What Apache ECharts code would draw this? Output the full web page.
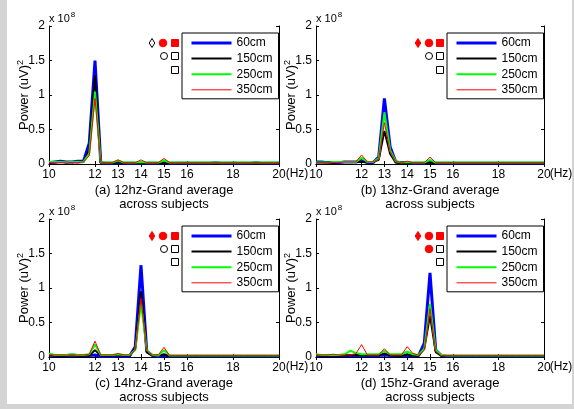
<!DOCTYPE html>
<html><head><meta charset="utf-8">
<script src="https://cdn.jsdelivr.net/npm/echarts@6/dist/echarts.min.js"></script>
<style>html,body{margin:0;padding:0;background:#fff}#c{width:574px;height:409px}</style>
</head><body><div id="c"></div>
<script>
const freq = [10,10.25,10.5,10.75,11,11.25,11.5,11.75,12,12.25,12.5,12.75,13,13.25,13.5,13.75,14,14.25,14.5,14.75,15,15.25,15.5,15.75,16,16.25,16.5,16.75,17,17.25,17.5,17.75,18,18.25,18.5,18.75,19,19.25,19.5,19.75,20];
const xTicks = [10,12,13,14,15,16,18,20];
const seriesNames = ['60cm','150cm','250cm','350cm'];
const titles = ['(a) 12hz-Grand average','(b) 13hz-Grand average','(c) 14hz-Grand average','(d) 15hz-Grand average'];
const subTitle = 'across subjects';

// values in units of 1e8 (uV)^2
const a60 = [0.02,0.03,0.04,0.03,0.03,0.04,0.04,0.30,1.50,0.02,0.01,0.01,0.02,0.01,0.01,0.01,0.01,0.01,0.01,0.01,0.03,0.01,0.01,0.01,0.01,0.01,0.01,0.01,0.01,0.02,0.01,0.01,0.01,0.01,0.01,0.01,0.02,0.01,0.01,0.01,0.01];
const a150 = [0.02,0.02,0.03,0.02,0.03,0.02,0.03,0.20,1.28,0.02,0.01,0.01,0.03,0.01,0.01,0.01,0.01,0.01,0.01,0.01,0.02,0.01,0.01,0.01,0.01,0.01,0.01,0.01,0.01,0.01,0.01,0.01,0.01,0.01,0.01,0.01,0.01,0.01,0.01,0.01,0.01];
const a250 = [0.03,0.03,0.03,0.03,0.03,0.03,0.03,0.15,1.05,0.02,0.02,0.02,0.05,0.02,0.02,0.02,0.03,0.02,0.02,0.02,0.05,0.02,0.02,0.02,0.02,0.02,0.02,0.02,0.02,0.02,0.02,0.02,0.02,0.02,0.02,0.02,0.02,0.02,0.02,0.02,0.02];
const a350 = [0.02,0.02,0.02,0.03,0.02,0.02,0.03,0.12,0.95,0.02,0.02,0.02,0.06,0.02,0.02,0.02,0.06,0.02,0.02,0.02,0.08,0.02,0.02,0.02,0.02,0.02,0.02,0.02,0.02,0.02,0.02,0.02,0.02,0.02,0.02,0.02,0.02,0.02,0.02,0.02,0.02];

const b60 = [0.03,0.03,0.02,0.02,0.02,0.03,0.03,0.03,0.05,0.02,0.02,0.10,0.95,0.25,0.03,0.02,0.02,0.01,0.01,0.01,0.03,0.01,0.01,0.01,0.01,0.01,0.01,0.01,0.01,0.01,0.01,0.01,0.01,0.01,0.01,0.01,0.01,0.01,0.01,0.01,0.01];
const b150 = [0.02,0.02,0.02,0.02,0.03,0.03,0.03,0.03,0.03,0.03,0.03,0.06,0.48,0.15,0.02,0.01,0.02,0.01,0.01,0.01,0.02,0.01,0.01,0.01,0.01,0.01,0.01,0.01,0.01,0.01,0.01,0.01,0.01,0.01,0.01,0.01,0.01,0.01,0.01,0.01,0.01];
const b250 = [0.02,0.02,0.02,0.03,0.03,0.03,0.03,0.03,0.09,0.03,0.03,0.08,0.75,0.20,0.04,0.02,0.03,0.02,0.02,0.02,0.06,0.02,0.02,0.02,0.02,0.02,0.02,0.02,0.02,0.02,0.02,0.02,0.02,0.02,0.02,0.02,0.02,0.02,0.02,0.02,0.02];
const b350 = [0.02,0.02,0.02,0.02,0.02,0.03,0.03,0.03,0.13,0.03,0.03,0.07,0.60,0.18,0.04,0.02,0.04,0.02,0.02,0.02,0.10,0.02,0.02,0.02,0.02,0.02,0.02,0.02,0.02,0.02,0.02,0.02,0.02,0.02,0.02,0.02,0.02,0.02,0.02,0.02,0.02];

const c60 = [0.03,0.02,0.02,0.02,0.03,0.02,0.02,0.02,0.03,0.01,0.01,0.01,0.02,0.01,0.01,0.15,1.33,0.08,0.02,0.01,0.02,0.01,0.01,0.01,0.01,0.01,0.01,0.01,0.01,0.01,0.01,0.01,0.01,0.01,0.01,0.01,0.01,0.01,0.01,0.01,0.01];
const c150 = [0.02,0.02,0.02,0.02,0.02,0.02,0.02,0.02,0.10,0.02,0.02,0.02,0.03,0.02,0.02,0.12,0.95,0.07,0.02,0.02,0.04,0.01,0.01,0.01,0.01,0.01,0.01,0.01,0.01,0.01,0.01,0.01,0.01,0.01,0.01,0.01,0.01,0.01,0.01,0.01,0.01];
const c250 = [0.05,0.03,0.03,0.03,0.04,0.03,0.03,0.04,0.18,0.03,0.03,0.03,0.04,0.03,0.03,0.10,0.78,0.10,0.03,0.02,0.10,0.02,0.02,0.02,0.02,0.02,0.02,0.02,0.02,0.02,0.02,0.02,0.02,0.02,0.02,0.02,0.02,0.02,0.02,0.02,0.02];
const c350 = [0.03,0.03,0.03,0.03,0.03,0.03,0.03,0.04,0.23,0.03,0.03,0.03,0.05,0.03,0.03,0.10,0.85,0.09,0.03,0.03,0.14,0.02,0.02,0.02,0.02,0.02,0.02,0.02,0.02,0.02,0.02,0.02,0.02,0.02,0.02,0.02,0.02,0.02,0.02,0.02,0.02];

const d60 = [0.02,0.02,0.02,0.02,0.02,0.02,0.02,0.02,0.02,0.02,0.02,0.02,0.03,0.02,0.02,0.02,0.02,0.02,0.02,0.20,1.22,0.10,0.02,0.01,0.01,0.01,0.01,0.01,0.01,0.01,0.01,0.01,0.01,0.01,0.01,0.01,0.01,0.01,0.01,0.01,0.01];
const d150 = [0.03,0.02,0.02,0.02,0.02,0.02,0.03,0.03,0.03,0.03,0.03,0.03,0.05,0.03,0.02,0.02,0.04,0.02,0.02,0.12,0.60,0.07,0.02,0.01,0.01,0.01,0.01,0.01,0.01,0.01,0.01,0.01,0.01,0.01,0.01,0.01,0.01,0.01,0.01,0.01,0.01];
const d250 = [0.04,0.03,0.03,0.03,0.03,0.04,0.09,0.06,0.04,0.04,0.04,0.04,0.09,0.04,0.04,0.04,0.08,0.04,0.03,0.12,0.77,0.10,0.03,0.02,0.02,0.02,0.02,0.02,0.02,0.02,0.02,0.02,0.02,0.02,0.02,0.02,0.02,0.02,0.02,0.02,0.02];
const d350 = [0.03,0.03,0.03,0.04,0.03,0.03,0.03,0.05,0.18,0.03,0.03,0.03,0.12,0.03,0.03,0.03,0.15,0.05,0.03,0.10,0.70,0.08,0.02,0.02,0.02,0.02,0.02,0.02,0.02,0.02,0.02,0.02,0.02,0.02,0.02,0.02,0.02,0.02,0.02,0.02,0.02];

const panels = [[a60,a150,a250,a350],[b60,b150,b250,b350],[c60,c150,c250,c350],[d60,d150,d250,d350]];

// styling / layout (not data)
const FONT = 'Liberation Sans, Arial, sans-serif';
const colors = ['#0000ff','#000000','#00ff00','#ff0000'];
const widths = [3,2,2,1];
const grids = [
  {left:49, top:26, width:230, height:138},
  {left:316, top:26, width:228, height:138},
  {left:49, top:219, width:230, height:138},
  {left:316, top:219, width:228, height:138}
];
const legendPos = [[182,33],[447,33],[182,226],[447,226]];
// significance marker layout: [type, x, y, filled]
const markerSets = [
  [['diamond',152,43,false],['circle',163,43,true],['square',175,43,true],['circle',164,56,false],['square',175,56,false],['square',175,70,false]],
  [['diamond',418,43,true],['circle',429,43,true],['square',440,43,true],['circle',429,56,false],['square',440,56,false],['square',440,70,false]],
  [['diamond',152,236,true],['circle',163,236,true],['square',175,236,true],['circle',164,249,false],['square',175,249,false],['square',175,262,false]],
  [['diamond',418,236,true],['circle',429,236,true],['square',440,236,true],['circle',429,249,true],['square',440,249,false],['square',440,262,false]]
];

const xAxis = [], yAxis = [], series = [], legend = [], graphic = [];
grids.forEach((g, i) => {
  const axLine = {show:true, lineStyle:{color:'#000', width:1}};
  xAxis.push({gridIndex:i, type:'value', min:10, max:20, position:'bottom',
    axisLine:axLine, splitLine:{show:false},
    axisTick:{show:true, inside:true, length:3, customValues:xTicks, lineStyle:{color:'#000'}},
    axisLabel:{show:true, customValues:xTicks, margin:5, color:'#000', fontSize:12, fontFamily:FONT}});
  xAxis.push({gridIndex:i, type:'value', min:10, max:20, position:'top',
    axisLine:axLine, splitLine:{show:false},
    axisTick:{show:true, inside:true, length:3, customValues:xTicks, lineStyle:{color:'#000'}},
    axisLabel:{show:false}});
  yAxis.push({gridIndex:i, type:'value', min:0, max:2, interval:0.5, position:'left',
    axisLine:axLine, splitLine:{show:false},
    axisTick:{show:true, inside:true, length:3, lineStyle:{color:'#000'}},
    axisLabel:{margin:4, color:'#000', fontSize:12, fontFamily:FONT},
    name:'{t|Power (uV)}{s|2}', nameLocation:'middle', nameGap:16, nameMoveOverlap:false,
    nameTextStyle:{color:'#000', fontFamily:FONT, rich:{
      t:{fontSize:13, fontFamily:FONT, color:'#000'},
      s:{fontSize:9, fontFamily:FONT, color:'#000', padding:[0,0,8,0]}}}});
  yAxis.push({gridIndex:i, type:'value', min:0, max:2, interval:0.5, position:'right',
    axisLine:axLine, splitLine:{show:false},
    axisTick:{show:true, inside:true, length:3, lineStyle:{color:'#000'}},
    axisLabel:{show:false}});
  panels[i].forEach((vals, k) => {
    series.push({type:'line', name:seriesNames[k], xAxisIndex:2*i, yAxisIndex:2*i,
      data: freq.map((f, j) => [f, vals[j]]),
      symbol:'none', showSymbol:false, silent:true,
      lineStyle:{color:colors[k], width:widths[k]}, itemStyle:{color:colors[k]}, z:2+k});
  });
  legend.push({data:seriesNames, orient:'vertical', left:legendPos[i][0], top:legendPos[i][1],
    backgroundColor:'#fff', borderColor:'#000', borderWidth:1, padding:[3,6,2,8],
    itemWidth:40, itemHeight:14, itemGap:1.6, selectedMode:false,
    itemStyle:{opacity:0}, lineStyle:{width:'inherit'},
    textStyle:{fontSize:12, fontFamily:FONT, color:'#000', lineHeight:14}});
  // titles
  const cx = g.left + g.width/2;
  const ty = g.top + g.height;
  graphic.push({type:'text', x:cx, y:ty+26, style:{text:titles[i], fill:'#000', font:'13px '+FONT, align:'center', verticalAlign:'middle'}, silent:true});
  graphic.push({type:'text', x:cx, y:ty+40, style:{text:subTitle, fill:'#000', font:'13px '+FONT, align:'center', verticalAlign:'middle'}, silent:true});
  // x 10^8
  graphic.push({type:'text', x:g.left, y:g.top-15, style:{text:'{a|x 10}{b|8}', fill:'#000',
    rich:{a:{fontSize:11, fontFamily:FONT, fill:'#000'}, b:{fontSize:8, fontFamily:FONT, fill:'#000', padding:[0,0,7,1]}}}, silent:true});
  // significance markers
  markerSets[i].forEach(m => {
    const [t, x, y, filled] = m;
    const st = filled ? {fill:'#ff0000', stroke:'#ff0000', lineWidth:1} : {fill:'#fff', stroke:'#000', lineWidth:1};
    if (t === 'circle') graphic.push({type:'circle', shape:{cx:x, cy:y, r:filled?3.8:3.5}, style:st, silent:true});
    else if (t === 'square') graphic.push({type:'rect', shape:{x:x-3.5, y:y-3.5, width:7, height:7}, style:st, silent:true});
    else graphic.push({type:'polygon', shape:{points:[[x,y-4.5],[x+2.8,y],[x,y+4.5],[x-2.8,y]]}, style:st, silent:true});
  });
});
// (Hz) labels
[174, 367].forEach(y => {
  graphic.push({type:'text', x:297, y:y, style:{text:'(Hz)', fill:'#000', font:'12px '+FONT, align:'center', verticalAlign:'middle'}, silent:true});
  graphic.push({type:'text', x:561, y:y, style:{text:'(Hz)', fill:'#000', font:'12px '+FONT, align:'center', verticalAlign:'middle'}, silent:true});
});
// grey window frame strips
graphic.push({type:'rect', shape:{x:0, y:0, width:7, height:409}, style:{fill:'#d4d4d4'}, silent:true, z:-10});
graphic.push({type:'rect', shape:{x:0, y:404, width:574, height:5}, style:{fill:'#d4d4d4'}, silent:true, z:-10});
graphic.push({type:'rect', shape:{x:572, y:0, width:2, height:409}, style:{fill:'#d4d4d4'}, silent:true, z:-10});

const chart = echarts.init(document.getElementById('c'), null, {renderer:'canvas'});
chart.setOption({animation:false, backgroundColor:'#fff', grid:grids.map(g => Object.assign({containLabel:false}, g)),
  xAxis, yAxis, series, legend, graphic, textStyle:{fontFamily:FONT}});
</script></body></html>
